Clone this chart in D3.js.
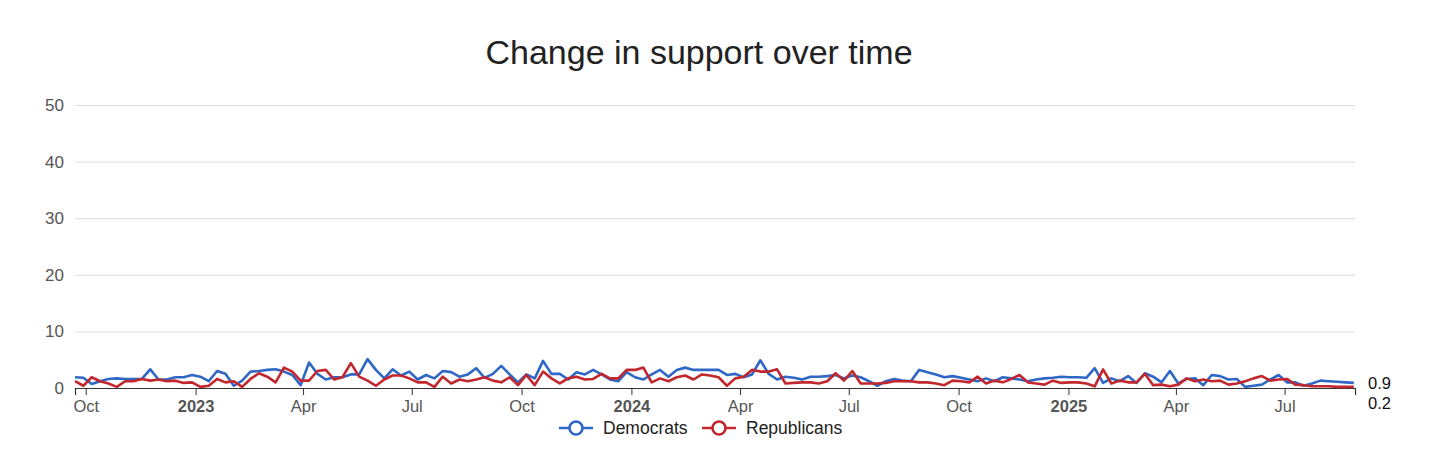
<!DOCTYPE html>
<html>
<head>
<meta charset="utf-8">
<script src="https://cdn.jsdelivr.net/npm/d3@7"></script>
<style>
  body { margin: 0; background: #fff; }
  text { font-family: "Liberation Sans", Arial, Helvetica, sans-serif; }
</style>
</head>
<body>
<div id="chart"></div>
<script>
// weekly readings, first week starting 2022-09-22
const startDate = new Date(2022, 8, 22);
const endDate = new Date(2025, 7, 29);

const democrats = [
  1.9,1.8,0.7,1.2,1.6,1.7,1.6,1.6,1.6,3.3,1.5,1.5,1.9,1.9,2.3,2.0,1.2,3.0,2.5,0.4,1.3,2.9,
  3.0,3.2,3.3,2.9,2.3,0.5,4.5,2.5,1.5,1.9,1.9,2.4,2.4,5.1,3.2,1.7,3.3,2.2,2.9,1.5,2.3,
  1.7,3.0,2.8,2.0,2.4,3.5,1.8,2.5,3.9,2.4,1.0,2.4,1.7,4.8,2.5,2.5,1.5,2.8,2.4,3.2,2.4,1.5,
  1.2,2.8,1.9,1.5,2.4,3.2,2.0,3.2,3.6,3.2,3.2,3.2,3.2,2.3,2.5,1.9,2.4,4.9,2.5,1.5,2.0,1.8,
  1.5,2.0,2.0,2.1,2.3,1.7,2.2,1.9,1.2,0.4,1.2,1.6,1.3,1.2,3.2,2.8,2.4,1.9,2.1,1.8,1.5,
  1.2,1.7,1.2,1.9,1.7,1.5,1.2,1.5,1.7,1.8,2.0,1.9,1.9,1.8,3.5,0.9,1.7,1.2,2.1,0.9,2.6,
  2.0,1.0,3.0,0.8,1.6,1.7,0.5,2.3,2.1,1.5,1.6,0.2,0.4,0.6,1.5,2.3,1.0,1.0,0.4,0.8,1.3,
  1.2,1.1,1.0,0.9
];

const republicans = [
  1.2,0.4,1.9,1.2,0.8,0.2,1.2,1.2,1.6,1.3,1.5,1.2,1.3,0.9,1.0,0.2,0.4,1.6,1.0,1.2,0.2,1.6,
  2.6,2.0,1.0,3.6,2.9,1.3,1.3,3.0,3.2,1.5,1.9,4.4,2.0,1.3,0.4,1.5,2.2,2.2,1.7,1.0,1.0,
  0.2,2.0,0.8,1.5,1.2,1.5,1.9,1.3,1.0,1.9,0.5,2.3,0.5,2.9,1.7,0.8,1.7,2.0,1.5,1.6,2.5,1.7,
  1.7,3.2,3.2,3.6,1.0,1.7,1.2,1.9,2.2,1.5,2.4,2.2,1.9,0.4,1.7,2.0,3.2,2.9,2.9,3.3,0.8,0.9,
  1.0,1.0,0.8,1.2,2.6,1.3,3.0,0.8,0.8,0.8,0.9,1.2,1.2,1.2,1.0,1.0,0.8,0.5,1.3,1.2,1.0,
  2.0,0.8,1.3,1.0,1.6,2.3,1.0,0.8,0.6,1.3,0.9,1.0,1.0,0.8,0.3,3.3,0.8,1.3,1.0,1.0,2.5,
  0.5,0.6,0.3,0.6,1.7,1.2,1.5,1.2,1.3,0.6,0.8,1.2,1.7,2.1,1.3,1.5,1.6,0.6,0.5,0.3,0.3,
  0.3,0.2,0.2,0.2
];

const seriesNames = ["Democrats", "Republicans"];
const seriesColors = ["#2e67c6", "#c1272d"];
const yTicks = [0, 10, 20, 30, 40, 50];
const endLabels = ["0.9", "0.2"];

const width = 1456, height = 474;
const margin = { top: 105, right: 101, bottom: 86, left: 75 };

const svg = d3.select("#chart")
  .append("svg")
  .attr("width", width)
  .attr("height", height)
  .style("background", "white");

const xScale = d3.scaleTime()
  .domain([startDate, endDate])
  .range([margin.left, width - margin.right]);

const yScale = d3.scaleLinear()
  .domain([0, 50])
  .range([height - margin.bottom, margin.top]);

// title
svg.append("text")
  .attr("x", 699)
  .attr("y", 64)
  .attr("text-anchor", "middle")
  .style("font-size", "34px")
  .style("fill", "#222")
  .text("Change in support over time");

// grid + y labels
const yAxis = d3.axisLeft(yScale)
  .tickValues(yTicks)
  .tickSize(-(width - margin.left - margin.right))
  .tickPadding(11);

const gy = svg.append("g")
  .attr("transform", `translate(${margin.left},0)`)
  .call(yAxis);
gy.select(".domain").remove();
gy.selectAll(".tick line").attr("stroke", "#dddddd");
gy.selectAll(".tick text")
  .style("font-size", "17px")
  .style("fill", "#555")
  .style("font-family", "Liberation Sans, Arial, sans-serif");

// x axis
const xTicks = d3.timeMonth.every(3).range(new Date(2022, 9, 1), endDate);
const xAxis = d3.axisBottom(xScale)
  .tickValues(xTicks)
  .tickSize(7)
  .tickPadding(5)
  .tickFormat(d => d.getMonth() === 0 ? d3.timeFormat("%Y")(d) : d3.timeFormat("%b")(d));

const gx = svg.append("g")
  .attr("transform", `translate(0,${yScale(0)})`)
  .call(xAxis);
gx.select(".domain").attr("stroke", "#333").attr("stroke-width", 1.2);
gx.selectAll(".tick line").attr("stroke", "#333");
gx.selectAll(".tick text")
  .style("font-size", "16.5px")
  .style("fill", "#555")
  .style("font-family", "Liberation Sans, Arial, sans-serif")
  .style("font-weight", d => d.getMonth() === 0 ? "bold" : "normal");

// lines
const line = d3.line()
  .x((d, i) => xScale(d3.timeWeek.offset(startDate, i)))
  .y(d => yScale(d));

[democrats, republicans].forEach((vals, k) => {
  svg.append("path")
    .datum(vals)
    .attr("fill", "none")
    .attr("stroke", seriesColors[k])
    .attr("stroke-width", 2.6)
    .attr("stroke-linejoin", "round")
    .attr("d", line);
});

// end labels
svg.append("text")
  .attr("x", 1368).attr("y", 389)
  .style("font-size", "16.5px").style("fill", "#111")
  .text(endLabels[0]);
svg.append("text")
  .attr("x", 1368).attr("y", 409)
  .style("font-size", "16.5px").style("fill", "#111")
  .text(endLabels[1]);

// legend
const legendX = [559, 702];
seriesNames.forEach((name, k) => {
  const g = svg.append("g").attr("transform", `translate(${legendX[k]},428)`);
  g.append("line")
    .attr("x1", 0).attr("x2", 34)
    .attr("stroke", seriesColors[k]).attr("stroke-width", 2.6);
  g.append("circle")
    .attr("cx", 17).attr("r", 6.5)
    .attr("fill", "white")
    .attr("stroke", seriesColors[k]).attr("stroke-width", 2.6);
  g.append("text")
    .attr("x", 44).attr("y", 6)
    .style("font-size", "17.5px").style("fill", "#222")
    .text(name);
});
</script>
</body>
</html>
